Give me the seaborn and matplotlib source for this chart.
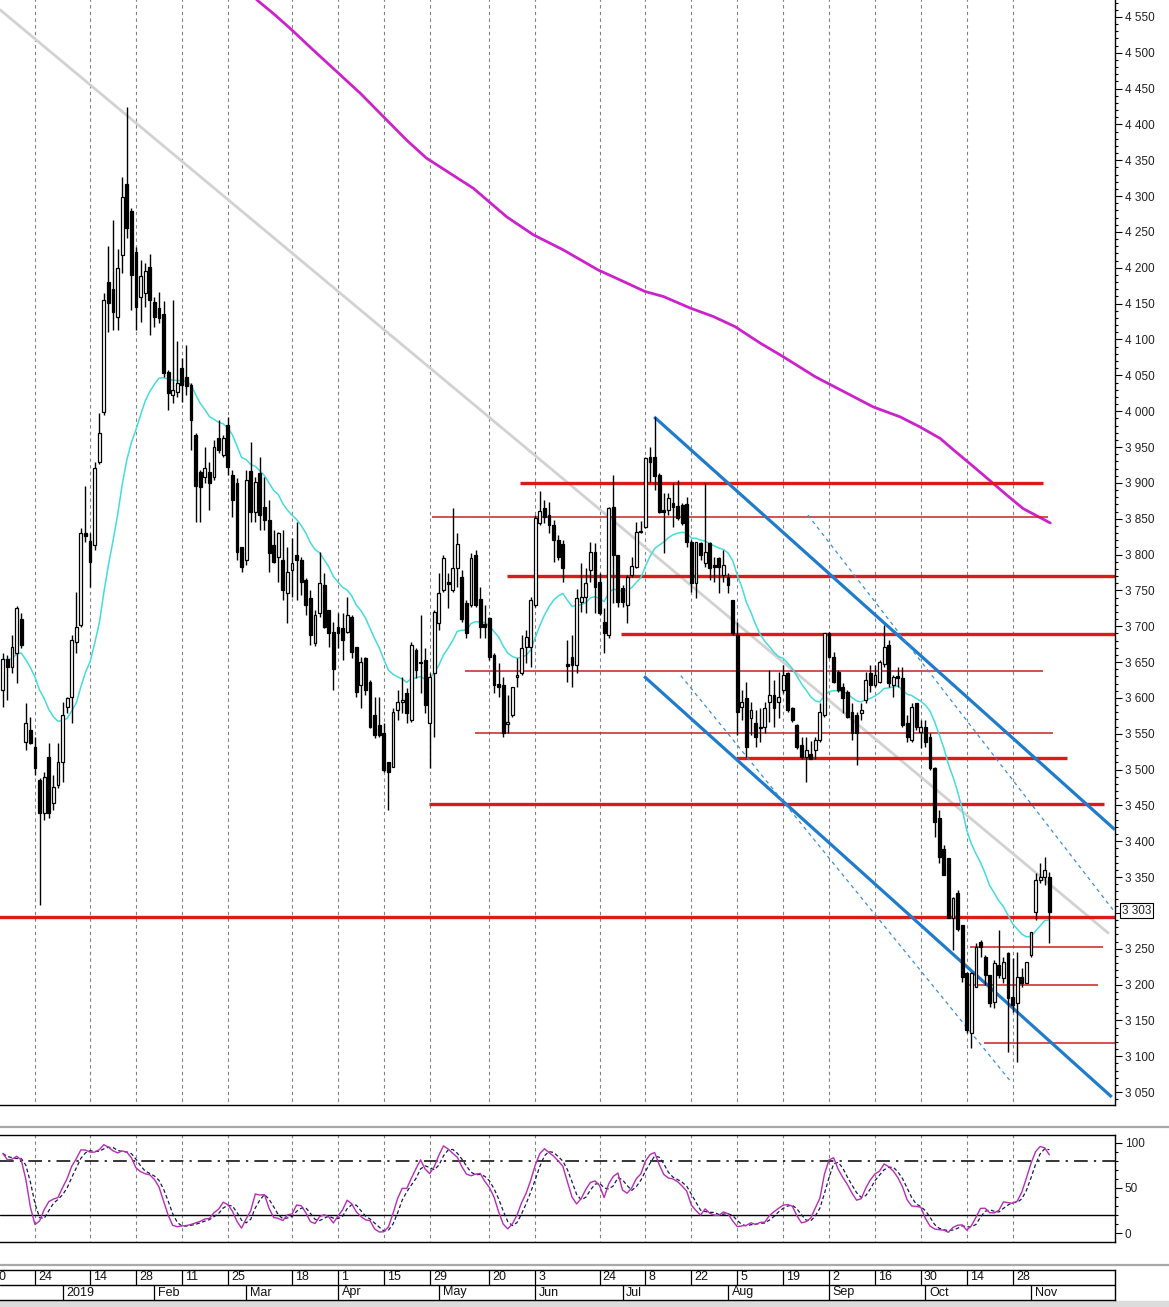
import numpy as np
import pandas as pd
import matplotlib
matplotlib.use("Agg")
import matplotlib.pyplot as plt
import seaborn as sns
from matplotlib.lines import Line2D
from matplotlib.patches import Rectangle
from matplotlib.ticker import MultipleLocator, FixedLocator, FuncFormatter

# ---------------- data ----------------
opens = [3611,3654,3643,3663,3710,3538,3555,3531,3485,3439,
         3517,3453,3478,3510,3587,3601,3678,3702,3830,3819,
         3813,3929,3999,4180,4170,4131,4218,4317,4279,4222,
         4159,4165,4201,4152,4144,4136,4055,4023,4027,4060,
         4048,4037,3967,3915,3908,3915,3908,3963,3939,3981,
         3911,3900,3811,3792,3916,3859,3914,3866,3848,3813,
         3797,3792,3746,3778,3799,3792,3764,3739,3677,3718,
         3758,3723,3692,3699,3697,3692,3713,3671,3618,3656,
         3622,3576,3562,3551,3510,3503,3583,3594,3607,3569,
         3667,3650,3653,3565,3635,3704,3750,3761,3750,3781,
         3769,3732,3730,3799,3738,3703,3712,3660,3619,3618,
         3563,3576,3629,3635,3671,3671,3730,3844,3865,3855,
         3841,3820,3815,3647,3657,3646,3734,3741,3778,3804,
         3762,3706,3688,3866,3799,3753,3730,3771,3783,3831,
         3838,3936,3936,3911,3862,3862,3872,3868,3869,3870,
         3817,3760,3816,3788,3816,3785,3795,3771,3768,3737,
         3688,3587,3600,3572,3565,3559,3559,3594,3604,3594,
         3611,3635,3586,3562,3534,3517,3521,3527,3541,3576,
         3691,3657,3636,3615,3608,3580,3576,3579,3597,3635,
         3618,3622,3647,3674,3618,3630,3628,3565,3541,3593,
         3552,3559,3545,3502,3432,3389,3377,3293,3328,3283,
         3216,3132,3197,3259,3238,3213,3176,3227,3209,3244,
         3183,3174,3211,3202,3241,3301,3346,3350,3350]
highs = [3663,3660,3688,3728,3718,3593,3573,3545,3488,3496,
         3537,3492,3537,3594,3601,3688,3748,3837,3896,3830,
         3929,3997,4165,4230,4267,4226,4327,4424,4283,4229,
         4211,4207,4219,4159,4166,4154,4057,4155,4098,4074,
         4092,4040,3970,3918,3950,3929,3960,3988,3967,3992,
         3918,3907,3811,3918,3957,3908,3936,3908,3876,3834,
         3831,3834,3811,3823,3845,3797,3767,3750,3723,3804,
         3774,3723,3706,3718,3718,3741,3716,3671,3657,3657,
         3625,3601,3601,3565,3510,3586,3611,3629,3614,3678,
         3670,3716,3670,3635,3723,3774,3799,3774,3865,3830,
         3778,3737,3802,3806,3755,3730,3713,3663,3649,3629,
         3604,3615,3656,3688,3695,3741,3855,3889,3876,3873,
         3848,3827,3820,3681,3688,3752,3788,3781,3818,3816,
         3774,3725,3866,3911,3799,3757,3771,3797,3845,3847,
         3936,3950,3992,3914,3886,3886,3900,3904,3872,3880,
         3820,3817,3817,3900,3817,3796,3796,3806,3774,3737,
         3706,3611,3622,3594,3583,3586,3594,3639,3625,3636,
         3646,3636,3587,3563,3545,3545,3540,3545,3593,3691,
         3692,3664,3639,3621,3611,3593,3580,3593,3636,3646,
         3646,3653,3702,3681,3632,3643,3643,3576,3593,3593,
         3569,3569,3551,3503,3443,3394,3377,3322,3332,3283,
         3217,3217,3258,3262,3241,3213,3234,3276,3238,3245,
         3237,3245,3223,3231,3273,3356,3370,3378,3357]
lows = [3587,3597,3635,3621,3670,3527,3535,3492,3311,3429,
        3432,3443,3474,3482,3579,3565,3663,3699,3817,3755,
        3806,3926,3995,4110,4113,4113,4193,4242,4141,4113,
        4124,4145,4106,4117,4123,4048,4002,4011,4020,4013,
        4023,3946,3845,3845,3900,3862,3904,3942,3936,3911,
        3852,3792,3776,3785,3845,3845,3834,3834,3776,3788,
        3761,3737,3704,3741,3737,3744,3716,3674,3673,3713,
        3698,3671,3611,3669,3653,3691,3655,3601,3586,3604,
        3558,3544,3545,3496,3443,3503,3569,3579,3565,3566,
        3628,3607,3579,3502,3545,3695,3748,3725,3748,3755,
        3706,3684,3727,3727,3684,3684,3653,3607,3601,3545,
        3551,3573,3615,3632,3649,3643,3727,3841,3844,3830,
        3790,3792,3762,3622,3615,3634,3720,3718,3762,3718,
        3716,3663,3684,3732,3727,3727,3704,3769,3781,3830,
        3837,3901,3890,3858,3802,3855,3838,3848,3841,3811,
        3748,3739,3792,3783,3764,3762,3746,3762,3746,3688,
        3548,3569,3517,3548,3531,3538,3551,3566,3559,3572,
        3607,3580,3566,3529,3514,3482,3514,3514,3538,3573,
        3656,3621,3608,3579,3572,3541,3506,3569,3593,3608,
        3615,3621,3643,3615,3601,3615,3559,3538,3538,3555,
        3530,3531,3499,3406,3370,3354,3293,3248,3274,3204,
        3132,3111,3197,3238,3199,3168,3167,3209,3202,3106,
        3162,3092,3197,3202,3238,3290,3342,3339,3258]
closes = [3654,3643,3671,3725,3674,3565,3537,3502,3439,3489,
          3439,3475,3510,3576,3600,3681,3699,3830,3826,3790,
          3921,3970,4155,4151,4138,4200,4299,4256,4190,4145,
          4189,4196,4155,4131,4130,4053,4025,4030,4039,4037,
          4035,3988,3896,3894,3921,3900,3950,3946,3963,3922,
          3876,3804,3783,3904,3859,3901,3855,3848,3802,3790,
          3830,3750,3776,3788,3792,3761,3730,3688,3716,3760,
          3699,3691,3640,3691,3681,3716,3664,3608,3650,3611,
          3559,3548,3548,3499,3496,3580,3594,3597,3579,3674,
          3639,3648,3590,3629,3720,3746,3795,3759,3781,3815,
          3710,3691,3795,3730,3699,3699,3657,3618,3615,3551,
          3566,3615,3632,3670,3685,3737,3851,3861,3852,3841,
          3820,3797,3781,3645,3646,3740,3741,3760,3804,3755,
          3718,3691,3865,3799,3734,3734,3769,3784,3831,3832,
          3935,3929,3910,3859,3860,3879,3866,3851,3844,3817,
          3760,3817,3799,3804,3781,3782,3783,3785,3757,3691,
          3580,3594,3531,3583,3545,3558,3586,3604,3586,3601,
          3632,3583,3569,3532,3517,3527,3514,3541,3580,3691,
          3657,3622,3611,3600,3573,3551,3551,3583,3625,3618,
          3632,3650,3671,3621,3629,3628,3562,3545,3587,3559,
          3559,3538,3502,3427,3378,3353,3293,3321,3277,3210,
          3136,3216,3252,3252,3213,3174,3230,3213,3231,3181,
          3171,3211,3202,3231,3273,3346,3350,3360,3301]

# long moving average (magenta), read at many trading days
ma200_day = [55.3, 58.9, 62.6, 67.6, 72.7, 77.8, 82.9, 88.0, 92.3, 97.4, 102.5, 109.8, 115.6,
             122.1, 129.7, 134.5, 139.9, 143.9, 149.7, 154.8, 159.5, 165.0, 170.0, 177.0,
             182.4, 189.6, 195.5, 199.8, 204.2, 207.1, 211.4, 215.8, 218.7, 222.3, 228.2]
ma200_val = [4574, 4555, 4534, 4504, 4474, 4444, 4411, 4378, 4353, 4332, 4311, 4271, 4246,
             4225, 4197, 4183, 4167, 4160, 4144, 4132, 4118, 4095, 4076, 4048,
             4030, 4006, 3992, 3978, 3962, 3946, 3923, 3899, 3883, 3864, 3844]

# horizontal support / resistance levels (red)
lvl_price = [3900, 3852, 3770, 3689, 3637, 3551, 3516, 3452, 3294, 3253, 3200, 3118]
lvl_start = [112.7, 93.5, 109.8, 134.6, 100.7, 102.9, 159.8, 92.8, -1.0, 210.7, 209.8, 213.8]
lvl_end = [226.6, 227.7, 243.0, 243.0, 226.6, 228.8, 231.8, 239.9, 243.0, 239.6, 238.6, 243.0]
lvl_thick = [True, False, True, True, False, False, True, True, True, False, False, False]

# trend channel (blue), dashed inner lines, grey long-term trendline
chan_d0 = [141.9, 139.7]
chan_p0 = [3992, 3630]
chan_d1 = [242.3, 241.6]
chan_p1 = [3416, 3043]
dash_d0 = [175.4, 147.7]
dash_p0 = [3855, 3631]
dash_d1 = [241.9, 219.8]
dash_p1 = [3304, 3063]
grey_d = [-0.6, 240.8]
grey_p = [4560, 3272]

# axis labels
day_pos = [-3, 7, 19, 29, 39, 49, 63, 73, 83, 93, 106, 116, 130, 140, 150, 160, 170, 180, 190, 200, 210, 220]
day_lab = ["10", "24", "14", "28", "11", "25", "18", "1", "15", "29", "20", "3", "24", "8", "22", "5", "19", "2", "16", "30", "14", "28"]
mon_pos = [13, 33, 53, 73, 95, 116, 135, 158, 180, 201, 224]
mon_lab = ["2019", "Feb", "Mar", "Apr", "May", "Jun", "Jul", "Aug", "Sep", "Oct", "Nov"]
last_price = 3303

# ---------------- derived series ----------------
df = pd.DataFrame({"open": opens, "high": highs, "low": lows, "close": closes})
df["day"] = np.arange(len(df))
df["high"] = df[["open", "high", "close"]].max(axis=1)
df["low"] = df[["open", "low", "close"]].min(axis=1)
df["ema20"] = df["close"].ewm(span=20, adjust=False).mean()
lo14 = df["low"].rolling(14, min_periods=1).min()
hi14 = df["high"].rolling(14, min_periods=1).max()
fastk = 100 * (df["close"] - lo14) / (hi14 - lo14)
df["k"] = fastk.rolling(3, min_periods=1).mean()
df["d"] = df["k"].rolling(3, min_periods=1).mean()

# ---------------- figure ----------------
sns.set_theme(style="white")
plt.rcParams['font.family'] = ['Liberation Sans', 'DejaVu Sans']

W, H = 1169, 1307
fig = plt.figure(figsize=(W / 100, H / 100), dpi=100)
fig.patch.set_facecolor("white")

def fy(y):
    return 1 - y / H

XL = (-0.625, 242.3)
ax = fig.add_axes([0, fy(1105), 1115 / W, 1105 / H])
ax_s = fig.add_axes([0, fy(1241.7), 1115 / W, (1241.7 - 1135) / H])
ax_d = fig.add_axes([0, fy(1300), 1115 / W, 30 / H])

grid_kw = dict(color="#808080", lw=0.8, linestyles=(0, (3, 3)), zorder=0)

def price_fmt(v, _):
    if abs(v - last_price) < 25:
        return ""
    return f"{int(round(v)):,}".replace(",", " ")

# ---- main price panel ----
ax.set_xlim(*XL)
ax.set_ylim(3031.9, 4573.7)
ax.vlines(day_pos, 3000, 4600, **grid_kw)

sns.lineplot(x=grey_d, y=grey_p, ax=ax, color="#d2d2d2", lw=2.0, zorder=1, legend=False)
sns.lineplot(x=ma200_day, y=ma200_val, ax=ax, color="#cc22cc", lw=2.0, zorder=2, legend=False)
for p, s, e, t in zip(lvl_price, lvl_start, lvl_end, lvl_thick):
    ax.plot([s, e], [p, p], color="#dd1a1a" if t else "#cc2020", lw=2.4 if t else 1.1,
            zorder=2, solid_capstyle="butt")
for a, b, c, d in zip(chan_d0, chan_p0, chan_d1, chan_p1):
    ax.plot([a, c], [b, d], color="#1f7ccc", lw=2.3, zorder=3, solid_capstyle="butt")
for a, b, c, d in zip(dash_d0, dash_p0, dash_d1, dash_p1):
    ax.plot([a, c], [b, d], color="#3d8fd9", lw=0.9, ls=(0, (3, 3)), zorder=3)
sns.lineplot(data=df, x="day", y="ema20", ax=ax, color="#45dcdc", lw=1.1, zorder=4, legend=False)

# candles
up = df["close"] >= df["open"]
ax.vlines(df["day"], df["low"], df["high"], color="black", lw=1.0, zorder=5)
body_lo = df[["open", "close"]].min(axis=1)
body_h = (df["close"] - df["open"]).abs().clip(lower=1.5)
ax.bar(df["day"][up], body_h[up], bottom=body_lo[up], width=0.62,
       color="white", edgecolor="black", linewidth=0.9, zorder=6)
ax.bar(df["day"][~up], body_h[~up], bottom=body_lo[~up], width=0.62,
       color="black", edgecolor="black", linewidth=0.9, zorder=6)

ax.set_xticks([])
ax.yaxis.tick_right()
ax.yaxis.set_major_locator(MultipleLocator(50))
ax.yaxis.set_minor_locator(MultipleLocator(10))
ax.yaxis.set_major_formatter(FuncFormatter(price_fmt))
ax.tick_params(axis="y", which="major", direction="out", length=5, width=0.8, labelsize=8.5,
               pad=2, colors="black", labelcolor="#222222")
ax.tick_params(axis="y", which="minor", direction="out", length=2.5, width=0.8, colors="black")
ax.tick_params(axis="y", left=False, labelleft=False, right=True, labelright=True, which="both")
for s in ["top", "left"]:
    ax.spines[s].set_visible(False)
for s in ["right", "bottom"]:
    ax.spines[s].set_visible(True)
    ax.spines[s].set_color("black")
    ax.spines[s].set_linewidth(1.0)
ax.set_xlabel("")
ax.set_ylabel("")
ax.text(1.006, last_price, f"{last_price:,}".replace(",", " "), transform=ax.get_yaxis_transform(),
        ha="left", va="center", fontsize=8.5, color="#222222", clip_on=False, zorder=10,
        bbox=dict(boxstyle="square,pad=0.15", fc="white", ec="black", lw=0.8))

# ---- stochastic panel ----
ax_s.set_xlim(*XL)
ax_s.set_ylim(-9.6, 108.5)
ax_s.vlines(day_pos, -20, 120, **grid_kw)
ax_s.axhline(80, color="black", lw=1.1, ls=(0, (9, 4, 1.5, 4)), zorder=1)
ax_s.axhline(20, color="black", lw=1.0, zorder=1)
sns.lineplot(data=df, x="day", y="d", ax=ax_s, color="#1a1a50", lw=0.9, ls=(0, (3, 2)), zorder=2, legend=False)
sns.lineplot(data=df, x="day", y="k", ax=ax_s, color="#b82cb8", lw=1.0, zorder=3, legend=False)
ax_s.set_xticks([])
ax_s.yaxis.tick_right()
ax_s.yaxis.set_major_locator(FixedLocator([0, 50, 100]))
ax_s.yaxis.set_minor_locator(FixedLocator([10, 20, 30, 40, 60, 70, 80, 90]))
ax_s.tick_params(axis="y", which="major", direction="out", length=5, width=0.8, labelsize=8.5,
                 pad=2, colors="black", labelcolor="#222222")
ax_s.tick_params(axis="y", which="minor", direction="out", length=2.5, width=0.8, colors="black")
ax_s.tick_params(axis="y", left=False, labelleft=False, which="both")
ax_s.spines["left"].set_visible(False)
for s in ["top", "bottom", "right"]:
    ax_s.spines[s].set_visible(True)
    ax_s.spines[s].set_color("black")
    ax_s.spines[s].set_linewidth(1.0)
ax_s.set_xlabel("")
ax_s.set_ylabel("")

# ---- date strip ----
ax_d.set_xlim(*XL)
ax_d.set_ylim(0, 2)
ax_d.axhline(1, color="black", lw=1.0)
ax_d.vlines(day_pos, 1, 2, color="black", lw=0.9)
ax_d.vlines(mon_pos, 0, 1, color="black", lw=0.9)
for p, l in zip(day_pos, day_lab):
    ax_d.text(p + 0.7, 1.5, l, ha="left", va="center", fontsize=9, color="#111111", clip_on=True)
for p, l in zip(mon_pos, mon_lab):
    ax_d.text(p + 0.8, 0.5, l, ha="left", va="center", fontsize=9, color="#111111", clip_on=True)
ax_d.set_xticks([])
ax_d.set_yticks([])
ax_d.spines["left"].set_visible(False)
for s in ["top", "bottom", "right"]:
    ax_d.spines[s].set_visible(True)
    ax_d.spines[s].set_color("black")
    ax_d.spines[s].set_linewidth(1.0)

# panel separators and bottom scroll band
for yy in (1127, 1265):
    fig.add_artist(Line2D([0, 1], [fy(yy), fy(yy)], color="#a8a8a8", lw=1.6, transform=fig.transFigure))
fig.add_artist(Rectangle((0, 0), 1, 6 / H, transform=fig.transFigure, color="#dcdcdc", zorder=0))

fig.savefig("out.png", dpi=100, facecolor="white")
